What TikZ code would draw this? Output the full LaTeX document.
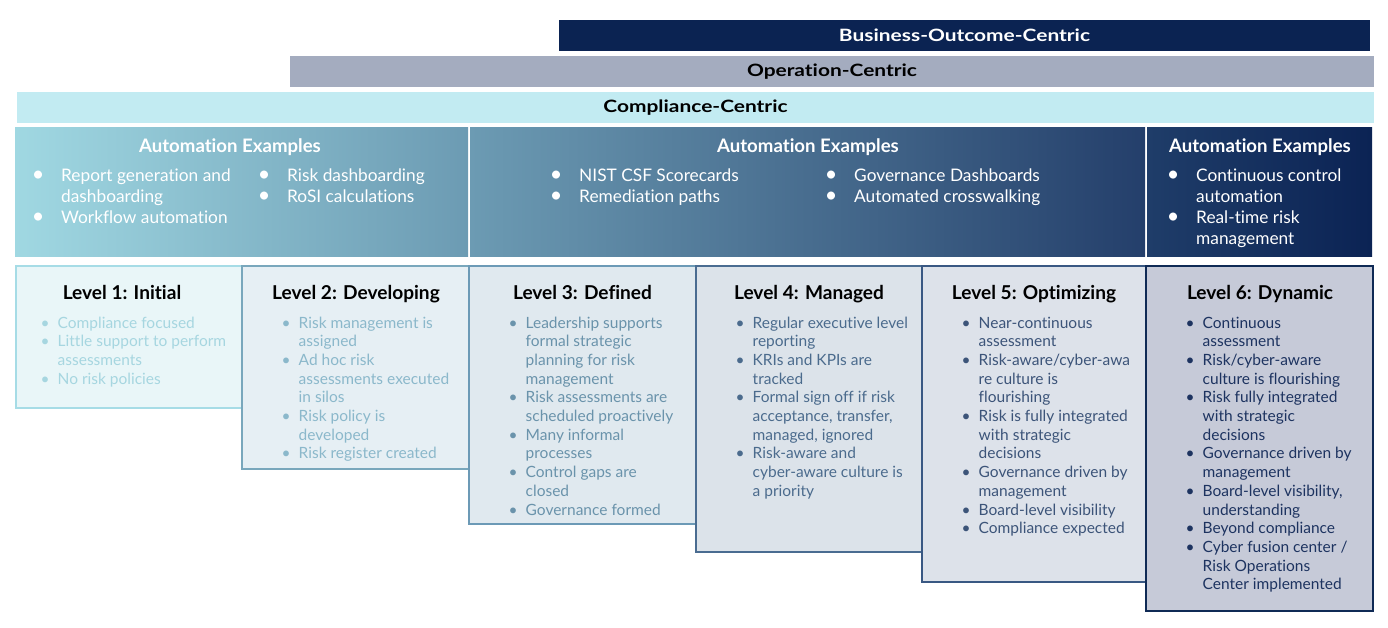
\documentclass[tikz,border=0pt]{standalone}
\usepackage{fontspec}
\usepackage{graphicx}
\setmainfont{Lato}[Ligatures=NoCommon]
\definecolor{navy}{HTML}{0B2352}
\definecolor{opbar}{HTML}{A4ACBF}
\definecolor{cobar}{HTML}{C2EBF2}
\definecolor{gA}{HTML}{A0D8E2}
\definecolor{gB}{HTML}{6C9BB3}
\definecolor{gC}{HTML}{243F6B}
\definecolor{gD}{HTML}{1F3D69}
\definecolor{gE}{HTML}{0B2354}
\definecolor{fA}{HTML}{E9F6F8}\definecolor{bA}{HTML}{A6DCE6}\definecolor{tA}{HTML}{A6D6E0}
\definecolor{fB}{HTML}{E6EFF4}\definecolor{bB}{HTML}{79A7BC}\definecolor{tB}{HTML}{8BB8CB}
\definecolor{fC}{HTML}{E0E9EF}\definecolor{bC}{HTML}{6C9AB6}\definecolor{tC}{HTML}{6A93AB}
\definecolor{fD}{HTML}{DCE3EA}\definecolor{bD}{HTML}{4A6C91}\definecolor{tD}{HTML}{4B6B8D}
\definecolor{fE}{HTML}{DDE2EA}\definecolor{bE}{HTML}{395883}\definecolor{tE}{HTML}{3C5479}
\definecolor{fF}{HTML}{C6CAD8}\definecolor{bF}{HTML}{0F2A55}\definecolor{tF}{HTML}{1D3360}
\newcommand\lvb{\makebox[0pt]{\textbullet}\hspace{12.5pt}}
\newcommand\lvc{\hspace*{12.5pt}}
\newcommand\aub{\makebox[0pt]{\scalebox{1.25}{\textbullet}}\hspace{23pt}}
\newcommand\auc{\hspace*{23pt}}
\newcommand\wide[1]{\scalebox{1.23}[1]{#1}}
\begin{document}
\begin{tikzpicture}[x=1pt,y=-1pt,
  bartext/.style={font=\fontsize{17}{20}\selectfont\bfseries},
  autohead/.style={font=\fontsize{18.6}{22}\selectfont\bfseries, text=white, anchor=base, inner sep=0},
  autolist/.style={font=\fontsize{17.3}{21}\selectfont, text=white, anchor=base west, inner sep=0},
  lvtitle/.style={font=\fontsize{19.1}{22}\selectfont\bfseries, text=black, anchor=base, inner sep=0},
  lvlist/.style={font=\fontsize{15.5}{18.7}\selectfont, anchor=base west, inner sep=0},
  lvbox/.style={line width=2.5pt}]
\useasboundingbox[fill=white] (0,0) rectangle (1388,628);
% top bars
\fill[navy] (559,20) rectangle (1370,51);
\node[bartext, text=white] (boc) at (964.5,35.5) {\wide{Business-Outcome-Centric}};
\fill[opbar] (290,56) rectangle (1374,87);
\node[bartext, text=black] (opc) at (832,71.5) {\wide{Operation-Centric}};
\fill[cobar] (17,92) rectangle (1374,123);
\node[bartext, text=black] (coc) at (695.5,107.5) {\wide{Compliance-Centric}};
% automation boxes
\shade[left color=gA, right color=gB] (15,128) rectangle (468,256);
\shade[left color=gB, right color=gC] (470,128) rectangle (1145,256);
\shade[left color=gD, right color=gE] (1147,128) rectangle (1372,256);
\node[autohead] (ah1) at (230,153) {Automation Examples};
\node[autohead] (ah2) at (808,153) {Automation Examples};
\node[autohead] (ah3) at (1260,153) {Automation Examples};
\node[autolist] (a1a) at (38,181.5) {\begin{tabular}[t]{@{}l@{}}\aub Report generation and\\ \auc dashboarding\\ \aub Workflow automation\end{tabular}};
\node[autolist] (a1b) at (264,181.5) {\begin{tabular}[t]{@{}l@{}}\aub Risk dashboarding\\ \aub RoSI calculations\end{tabular}};
\node[autolist] (a2a) at (556,181.5) {\begin{tabular}[t]{@{}l@{}}\aub NIST CSF Scorecards\\ \aub Remediation paths\end{tabular}};
\node[autolist] (a2b) at (831,181.5) {\begin{tabular}[t]{@{}l@{}}\aub Governance Dashboards\\ \aub Automated crosswalking\end{tabular}};
\node[autolist] (a3a) at (1173,181.5) {\begin{tabular}[t]{@{}l@{}}\aub Continuous control\\ \auc automation\\ \aub Real-time risk\\ \auc management\end{tabular}};
% level boxes
\filldraw[lvbox, fill=fA, draw=bA] (16,266) rectangle (242,408);
\filldraw[lvbox, fill=fB, draw=bB] (242,266) rectangle (469,469);
\filldraw[lvbox, fill=fC, draw=bC] (469,266) rectangle (696,524);
\filldraw[lvbox, fill=fD, draw=bD] (696,266) rectangle (922,552);
\filldraw[lvbox, fill=fE, draw=bE] (922,266) rectangle (1146,582);
\filldraw[lvbox, fill=fF, draw=bF] (1146,266) rectangle (1373,611);
\node[lvtitle] (t1) at (122,299) {Level 1: Initial};
\node[lvtitle] (t2) at (356,299) {Level 2: Developing};
\node[lvtitle] (t3) at (582.5,299) {Level 3: Defined};
\node[lvtitle] (t4) at (809,299) {Level 4: Managed};
\node[lvtitle] (t5) at (1034,299) {Level 5: Optimizing};
\node[lvtitle] (t6) at (1260,299) {Level 6: Dynamic};
\node[lvlist, text=tA] (l1) at (45,328) {\begin{tabular}[t]{@{}l@{}}\lvb Compliance focused\\ \lvb Little support to perform\\ \lvc assessments\\ \lvb No risk policies\end{tabular}};
\node[lvlist, text=tB] (l2) at (286,328) {\begin{tabular}[t]{@{}l@{}}\lvb Risk management is\\ \lvc assigned\\ \lvb Ad hoc risk\\ \lvc assessments executed\\ \lvc in silos\\ \lvb Risk policy is\\ \lvc developed\\ \lvb Risk register created\end{tabular}};
\node[lvlist, text=tC] (l3) at (513,328) {\begin{tabular}[t]{@{}l@{}}\lvb Leadership supports\\ \lvc formal strategic\\ \lvc planning for risk\\ \lvc management\\ \lvb Risk assessments are\\ \lvc scheduled proactively\\ \lvb Many informal\\ \lvc processes\\ \lvb Control gaps are\\ \lvc closed\\ \lvb Governance formed\end{tabular}};
\node[lvlist, text=tD] (l4) at (740,328) {\begin{tabular}[t]{@{}l@{}}\lvb Regular executive level\\ \lvc reporting\\ \lvb KRIs and KPIs are\\ \lvc tracked\\ \lvb Formal sign off if risk\\ \lvc acceptance, transfer,\\ \lvc managed, ignored\\ \lvb Risk-aware and\\ \lvc cyber-aware culture is\\ \lvc a priority\end{tabular}};
\node[lvlist, text=tE] (l5) at (966,328) {\begin{tabular}[t]{@{}l@{}}\lvb Near-continuous\\ \lvc assessment\\ \lvb Risk-aware/cyber-awa\\ \lvc re culture is\\ \lvc flourishing\\ \lvb Risk is fully integrated\\ \lvc with strategic\\ \lvc decisions\\ \lvb Governance driven by\\ \lvc management\\ \lvb Board-level visibility\\ \lvb Compliance expected\end{tabular}};
\node[lvlist, text=tF] (l6) at (1190,328) {\begin{tabular}[t]{@{}l@{}}\lvb Continuous\\ \lvc assessment\\ \lvb Risk/cyber-aware\\ \lvc culture is flourishing\\ \lvb Risk fully integrated\\ \lvc with strategic\\ \lvc decisions\\ \lvb Governance driven by\\ \lvc management\\ \lvb Board-level visibility,\\ \lvc understanding\\ \lvb Beyond compliance\\ \lvb Cyber fusion center /\\ \lvc Risk Operations\\ \lvc Center implemented\end{tabular}};
\end{tikzpicture}
\end{document}
